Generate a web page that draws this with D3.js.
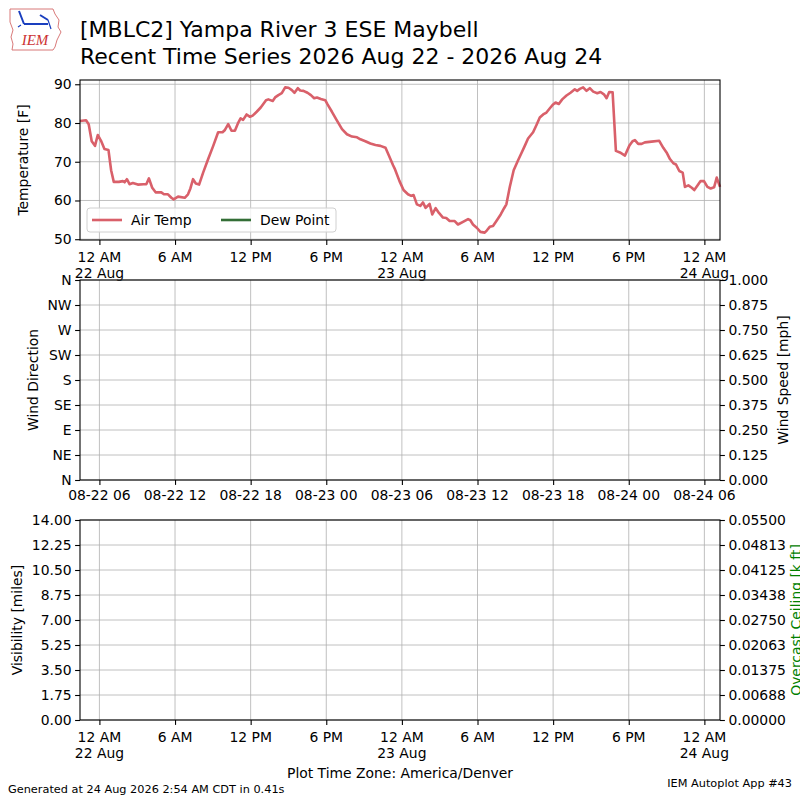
<!DOCTYPE html>
<html><head><meta charset="utf-8">
<script src="https://cdn.jsdelivr.net/npm/d3@7/dist/d3.min.js"></script>
<style>body{margin:0;background:#fff}svg{display:block;font-family:"DejaVu Sans",sans-serif}</style>
</head><body><svg id="c" width="800" height="800"></svg>
<script>
// hours since 2026-08-22 00:00 (America/Denver)
const obsHours = [-1.54,-1.06,-0.85,-0.61,-0.35,-0.13,0.13,0.40,0.72,0.93,1.14,1.54,1.86,2.0,2.18,2.39,2.65,3.05,3.5,3.72,3.93,4.19,4.46,4.91,5.12,5.44,5.71,5.89,6.24,6.77,7.03,7.22,7.43,7.65,7.91,8.23,8.63,9.03,9.42,9.77,9.96,10.22,10.48,10.75,11.02,11.2,11.4,11.68,11.95,12.16,12.48,12.8,13.22,13.4,13.75,13.94,14.2,14.47,14.74,15.0,15.27,15.48,15.74,15.93,16.19,16.51,16.78,17.04,17.26,17.57,17.92,18.1,18.45,18.85,19.25,19.64,20.04,20.44,20.71,21.1,21.5,21.9,22.3,22.7,22.96,23.3,23.42,23.81,24.13,24.48,24.74,24.93,25.19,25.46,25.67,25.88,26.2,26.41,26.68,26.94,27.26,27.52,27.79,28.19,28.45,28.85,29.25,29.43,29.64,29.96,30.23,30.57,30.75,30.97,31.23,31.5,31.84,32.11,32.29,32.56,32.87,33.22,33.48,33.75,34.01,34.41,34.68,34.94,35.21,35.47,35.74,36.0,36.19,36.45,36.72,37.06,37.38,37.72,37.91,38.12,38.38,38.65,38.91,39.18,39.5,39.76,40.03,40.24,40.45,40.72,40.98,41.3,41.7,42.04,42.3,42.49,42.75,43.02,43.28,43.81,44.42,44.74,45.0,45.27,45.54,45.75,46.01,46.28,46.46,46.73,47.0,47.2,47.44,47.7,47.97,48.24,48.5,48.77,48.98,49.24];
const airTemp = [80.5,80.7,79.7,75.3,74.1,76.9,75.4,73.3,73.0,67.8,64.8,64.8,65.0,64.7,65.5,64.2,64.5,64.1,64.2,64.2,65.7,63.3,62.1,62.1,61.6,61.6,60.7,60.3,61.0,60.7,61.6,63.1,65.5,64.4,64.1,67.2,70.7,74.1,77.6,77.6,78.2,79.7,78.0,78.0,80.1,81.2,80.8,82.2,81.6,81.9,82.9,84.0,85.9,86.1,85.7,86.6,87.2,87.7,89.2,89.1,88.5,87.8,89.0,88.4,88.3,87.8,87.2,86.4,86.6,86.2,85.9,84.8,82.9,80.6,78.4,77.1,76.5,76.3,75.8,75.3,74.7,74.3,74.1,73.6,71.7,69.1,68.3,65.0,62.7,61.6,61.2,61.4,59.0,58.6,59.5,58.1,59.1,56.4,58.0,56.8,55.6,55.5,54.7,54.7,53.8,54.5,55.2,54.9,53.8,52.9,51.9,51.7,52.3,53.2,53.4,54.7,56.4,58.0,59.0,63.5,67.8,70.4,72.2,74.1,76.0,77.6,79.5,81.4,82.2,82.7,83.8,84.8,85.3,84.9,86.1,87.1,87.8,88.7,88.3,88.8,89.2,88.3,89.0,88.1,87.7,88.0,87.4,86.4,88.0,87.9,72.8,72.4,71.6,74.1,75.3,75.6,74.6,74.6,75.0,75.2,75.4,73.6,72.4,70.7,69.6,69.3,67.6,67.2,63.5,63.9,63.3,62.7,63.8,65.0,65.0,63.5,63.1,63.4,65.9,63.5];
const dewPoint = [];
const timeTickHours = [0,6,12,18,24,30,36,42,48];
const tempTicks = [50,60,70,80,90];
const dirTicks = [0,45,90,135,180,225,270,315,360];
const dirLabels = ["N","NE","E","SE","S","SW","W","NW","N"];
const speedTicks = [0,0.125,0.25,0.375,0.5,0.625,0.75,0.875,1.0];
const visTicks = [0,1.75,3.5,5.25,7,8.75,10.5,12.25,14];
const ceilTicks = [0,0.006875,0.01375,0.020625,0.0275,0.034375,0.04125,0.048125,0.055];
const titleLines = ["[MBLC2] Yampa River 3 ESE Maybell","Recent Time Series 2026 Aug 22 - 2026 Aug 24"];

const base = Date.UTC(2026,7,22,0,0);
const toDate = h => new Date(base + h*3600e3);
const svg = d3.select("#c");
const L=80, R=720;
const FS=13.9;
const x = d3.scaleUtc().domain([toDate(-1.54), toDate(49.24)]).range([L,R]);
const tickDates = timeTickHours.map(toDate);
const red = "#d9606a", green = "#336e36", grid="#b0b0b0";

function localLabel(d){
  const h=d.getUTCHours();
  if(h===0) return ["12 AM", d3.utcFormat("%-d %b")(d)];
  if(h<12) return [h+" AM"];
  if(h===12) return ["12 PM"];
  return [(h-12)+" PM"];
}

function panel(top,bot){
  const g=svg.append("g");
  return {g,top,bot};
}
function frameGrid(p,yScale,yTicks){
  const g=p.g;
  g.append("g").selectAll("line").data(tickDates).join("line")
    .attr("x1",d=>x(d)).attr("x2",d=>x(d)).attr("y1",p.top).attr("y2",p.bot)
    .attr("stroke",grid).attr("stroke-width",0.8);
  g.append("g").selectAll("line").data(yTicks).join("line")
    .attr("x1",L).attr("x2",R).attr("y1",d=>yScale(d)).attr("y2",d=>yScale(d))
    .attr("stroke",grid).attr("stroke-width",0.8);
}
function frame(p){
  p.g.append("rect").attr("x",L).attr("y",p.top).attr("width",R-L).attr("height",p.bot-p.top)
    .attr("fill","none").attr("stroke","#000").attr("stroke-width",1.1);
}
function xAxis(p,fmtLines,firstBase){
  const ax=d3.axisBottom(x).tickValues(tickDates).tickSize(4.9).tickFormat("");
  const ag=p.g.append("g").attr("transform",`translate(0,${p.bot})`).call(ax);
  ag.select(".domain").remove();
  ag.selectAll(".tick line").attr("stroke","#000").attr("stroke-width",1.1);
  tickDates.forEach(d=>{
    const lines=fmtLines(d);
    lines.forEach((t,i)=>{
      p.g.append("text").attr("x",x(d)).attr("y",firstBase+i*16).attr("text-anchor","middle")
        .attr("font-size",FS).attr("fill","#000").text(t);
    });
  });
}
function yAxisLeft(p,y,ticks,fmt){
  const ag=p.g.append("g").attr("transform",`translate(${L},0)`)
    .call(d3.axisLeft(y).tickValues(ticks).tickSize(4.9).tickPadding(3.5).tickFormat(fmt));
  ag.select(".domain").remove();
  ag.selectAll(".tick line").attr("stroke","#000").attr("stroke-width",1.1);
  ag.selectAll(".tick text").attr("font-size",FS).attr("font-family","DejaVu Sans").attr("fill","#000");
}
function yAxisRight(p,y,ticks,fmt){
  const ag=p.g.append("g").attr("transform",`translate(${R},0)`)
    .call(d3.axisRight(y).tickValues(ticks).tickSize(4.9).tickPadding(3.5).tickFormat(fmt));
  ag.select(".domain").remove();
  ag.selectAll(".tick line").attr("stroke","#000").attr("stroke-width",1.1);
  ag.selectAll(".tick text").attr("font-size",FS).attr("font-family","DejaVu Sans").attr("fill","#000");
}
function yLabel(cx,cy,t,col){
  svg.append("text").attr("transform",`translate(${cx},${cy}) rotate(-90)`).attr("text-anchor","middle")
    .attr("dominant-baseline","central").attr("font-size",FS).attr("fill",col||"#000").text(t);
}

// ---- Top panel
const p1=panel(80,240);
const yT=d3.scaleLinear().domain([49.8,91.1]).range([240,80]);
frameGrid(p1,yT,tempTicks);
const pts=obsHours.map((h,i)=>({d:toDate(h),v:airTemp[i]}));
p1.g.append("path").datum(pts).attr("fill","none").attr("stroke",red).attr("stroke-width",2.6)
  .attr("stroke-linejoin","round")
  .attr("d",d3.line().x(d=>x(d.d)).y(d=>yT(d.v)));
frame(p1);
yAxisLeft(p1,yT,tempTicks,d3.format("d"));
xAxis(p1,localLabel,262);
yLabel(23,160,"Temperature [F]");
// legend
const lg=p1.g.append("g");
lg.append("rect").attr("x",87).attr("y",208).attr("width",249).attr("height",24).attr("rx",3)
  .attr("fill","#fff").attr("fill-opacity",0.8).attr("stroke","#d0d0d0").attr("stroke-width",1);
[["Air Temp",red,92],["Dew Point",green,221]].forEach(([t,c,x0])=>{
  lg.append("line").attr("x1",x0).attr("x2",x0+30).attr("y1",220).attr("y2",220).attr("stroke",c).attr("stroke-width",2.6);
  lg.append("text").attr("x",x0+39).attr("y",225).attr("font-size",FS).text(t);
});

// ---- Middle panel
const p2=panel(280,480);
const yD=d3.scaleLinear().domain([0,360]).range([480,280]);
const yS=d3.scaleLinear().domain([0,1]).range([480,280]);
frameGrid(p2,yD,dirTicks);
frame(p2);
yAxisLeft(p2,yD,dirTicks,(d,i)=>dirLabels[i]);
yAxisRight(p2,yS,speedTicks,d3.format(".3f"));
xAxis(p2,d=>[d3.utcFormat("%m-%d %H")(new Date(d.getTime()+6*3600e3))],499.5);
yLabel(33,380,"Wind Direction");
yLabel(783,380,"Wind Speed [mph]");

// ---- Bottom panel
const p3=panel(520,720);
const yV=d3.scaleLinear().domain([0,14]).range([720,520]);
const yC=d3.scaleLinear().domain([0,0.055]).range([720,520]);
frameGrid(p3,yV,visTicks);
frame(p3);
yAxisLeft(p3,yV,visTicks,d3.format(".2f"));
yAxisRight(p3,yC,ceilTicks,d3.format(".5f"));
xAxis(p3,localLabel,742);
yLabel(17,620,"Visibility [miles]");
yLabel(796,620,"Overcast Ceiling [k ft]","#008000");

// ---- Texts
svg.append("text").attr("x",400).attr("y",778).attr("text-anchor","middle").attr("font-size",FS)
  .text("Plot Time Zone: America/Denver");
svg.append("text").attr("x",8).attr("y",793).attr("font-size",11.3).text("Generated at 24 Aug 2026 2:54 AM CDT in 0.41s");
svg.append("text").attr("x",792).attr("y",787).attr("text-anchor","end").attr("font-size",11.3).text("IEM Autoplot App #43");
titleLines.forEach((t,i)=>svg.append("text").attr("x",80).attr("y",37+i*27).attr("font-size",22).text(t));

// ---- Logo
const lo=svg.append("g");
lo.append("path").attr("d","M10,9 L53,9 L55,14 L59,20 L58,27 L61,32 L57,40 L55,47 L53,50 L12,50 L13,44 L11,37 L13,30 L10,22 Z")
  .attr("fill","#fff").attr("stroke","#d46a6a").attr("stroke-width",0.9);
lo.append("line").attr("x1",24).attr("x2",48).attr("y1",24).attr("y2",24).attr("stroke","#1a3fbf").attr("stroke-width",2);
lo.append("path").attr("d","M19,11 L24,24 M40,15 L48,20").attr("stroke","#1a3fbf").attr("stroke-width",2).attr("fill","none");
lo.append("path").attr("d","M48,20 L51,29 M21,25 L18,27").attr("stroke","#1a3fbf").attr("stroke-width",1.2).attr("fill","none");
lo.append("text").attr("x",35).attr("y",45).attr("text-anchor","middle").attr("font-family","Liberation Serif")
  .attr("font-style","italic").attr("font-size",15).attr("fill","#c33").text("IEM");
</script></body></html>
